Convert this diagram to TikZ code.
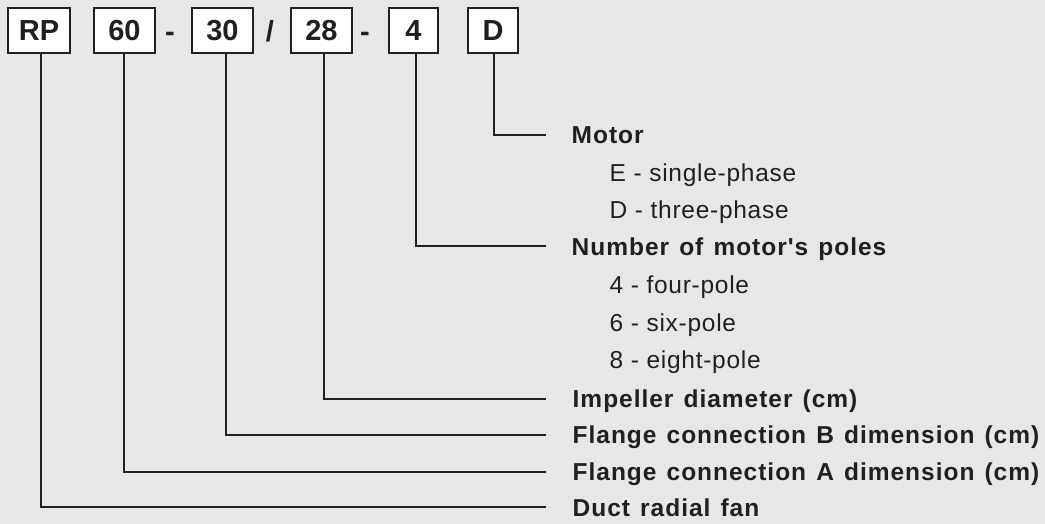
\documentclass[tikz,border=0pt]{standalone}
\usepackage{fontspec}
\setmainfont{Liberation Sans}
\newfontfamily\lblfont[LetterSpace=4,WordSpace=1.3]{Liberation Sans}
\newfontfamily\itemfont[LetterSpace=3]{Liberation Sans}
\definecolor{bg}{HTML}{E6E7E8}
\definecolor{ink}{HTML}{231F20}
\begin{document}
\begin{tikzpicture}[x=1pt,y=-1pt,
  codebox/.style={draw=ink, line width=2pt, fill=white, inner sep=0pt,
    minimum height=45pt, font=\fontsize{29}{29}\selectfont\bfseries, text=ink},
  sep/.style={anchor=base, inner sep=0pt, font=\fontsize{29}{29}\selectfont\bfseries, text=ink},
  head/.style={anchor=base west, inner sep=0pt, font=\lblfont\fontsize{24.5}{24.5}\selectfont\bfseries, text=ink},
  item/.style={anchor=base west, inner sep=0pt, font=\itemfont\fontsize{24.5}{24.5}\selectfont, text=ink},
  conn/.style={draw=ink, line width=2pt, line join=miter}]
\useasboundingbox (0,0) rectangle (1045,524);
\fill[bg] (0,0) rectangle (1045,524);

% code boxes
\node[codebox, minimum width=62pt] (rp) at (39,30.5) {RP};
\node[codebox, minimum width=61pt] (b60) at (124.5,30.5) {60};
\node[sep] (s1) at (170,41.5) {-};
\node[codebox, minimum width=61pt] (b30) at (222.5,30.5) {30};
\node[sep] (s2) at (270,41.5) {/};
\node[codebox, minimum width=61pt] (b28) at (321.5,30.5) {28};
\node[sep] (s3) at (365,41.5) {-};
\node[codebox, minimum width=49pt] (b4) at (413.5,30.5) {4};
\node[codebox, minimum width=50pt] (bd) at (493,30.5) {D};

% line end points
\coordinate (emotor) at (546,135);
\coordinate (epoles) at (546,246);
\coordinate (eimp) at (546,399);
\coordinate (eflb) at (546,435);
\coordinate (efla) at (546,471.7);
\coordinate (educt) at (546,507.3);

% labels
\node[head] (lmotor) at (571.5,143.8) {Motor};
\node[item] (le) at (609.5,181.8) {E - single-phase};
\node[item] (ld) at (609.5,218.8) {D - three-phase};
\node[head] (lpoles) at (571.5,255.5) {Number of motor's poles};
\node[item] (l4) at (609.5,293.3) {4 - four-pole};
\node[item] (l6) at (609.5,331.8) {6 - six-pole};
\node[item] (l8) at (609.5,368.8) {8 - eight-pole};
\node[head] (limp) at (572.5,407.8) {Impeller diameter (cm)};
\node[head] (lflb) at (572.5,443.8) {Flange connection B dimension (cm)};
\node[head] (lfla) at (572.5,480.5) {Flange connection A dimension (cm)};
\node[head] (lduct) at (572.5,516) {Duct radial fan};

% connectors
\draw[conn] ([xshift=1pt]bd.south) |- (emotor);
\draw[conn] ([xshift=2.5pt]b4.south) |- (epoles);
\draw[conn] ([xshift=2.5pt]b28.south) |- (eimp);
\draw[conn] ([xshift=3.5pt]b30.south) |- (eflb);
\draw[conn] ([xshift=-0.5pt]b60.south) |- (efla);
\draw[conn] ([xshift=2pt]rp.south) |- (educt);
\end{tikzpicture}
\end{document}
